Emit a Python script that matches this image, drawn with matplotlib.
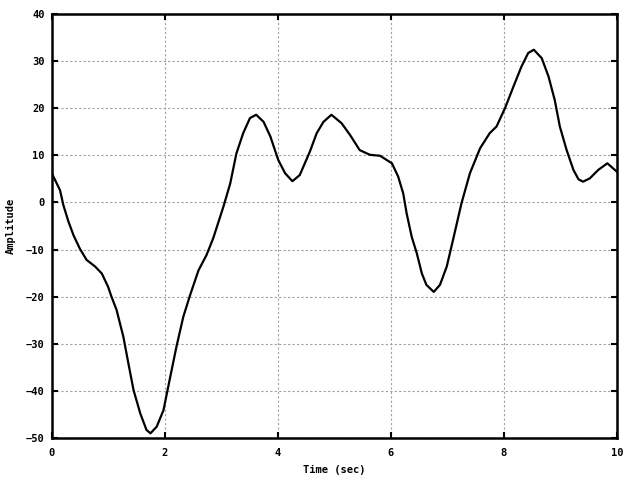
import matplotlib
matplotlib.use("Agg")
import matplotlib.pyplot as plt

# values
t = [0.0, 0.15, 0.21, 0.30, 0.39, 0.50, 0.62, 0.77, 0.89, 1.00, 1.06, 1.15, 1.27,
     1.36, 1.45, 1.57, 1.68, 1.75, 1.86, 1.98, 2.10, 2.21, 2.33, 2.45, 2.60, 2.74,
     2.86, 3.04, 3.16, 3.27, 3.39, 3.51, 3.62, 3.75, 3.87, 4.01, 4.13, 4.26, 4.39,
     4.57, 4.69, 4.81, 4.95, 5.13, 5.28, 5.45, 5.63, 5.81, 6.02, 6.13, 6.22, 6.28,
     6.37, 6.46, 6.55, 6.63, 6.76, 6.87, 6.99, 7.10, 7.25, 7.40, 7.58, 7.75, 7.87,
     8.02, 8.17, 8.31, 8.43, 8.53, 8.67, 8.79, 8.90, 8.99, 9.11, 9.23, 9.32, 9.40,
     9.52, 9.67, 9.83, 10.0]
amp = [6.3, 2.6, -0.6, -4.1, -7.0, -9.8, -12.2, -13.6, -15.1, -17.9, -20.0, -22.8,
       -28.5, -34.2, -39.8, -44.8, -48.3, -49.0, -47.6, -44.1, -37.0, -30.6, -24.3,
       -19.7, -14.4, -11.2, -7.6, -0.9, 4.0, 10.4, 14.7, 17.9, 18.6, 17.1, 14.0, 9.0,
       6.2, 4.5, 5.8, 10.8, 14.7, 17.1, 18.6, 16.8, 14.3, 11.1, 10.1, 9.9, 8.3, 5.5,
       1.9, -2.3, -7.3, -10.8, -15.1, -17.5, -19.0, -17.5, -13.6, -8.0, -0.2, 6.2,
       11.5, 14.7, 16.1, 20.0, 24.6, 28.8, 31.7, 32.4, 30.6, 26.7, 21.7, 16.1, 11.1,
       6.9, 4.9, 4.4, 5.1, 6.9, 8.3, 6.5]

xticks = [0, 2, 4, 6, 8, 10]
yticks = [-50, -40, -30, -20, -10, 0, 10, 20, 30, 40]

plt.rcParams["font.family"] = "DejaVu Sans Mono"
plt.rcParams["font.weight"] = "bold"
plt.rcParams["font.size"] = 7.5

fig = plt.figure(figsize=(6.4, 4.8), dpi=100)
ax = fig.add_axes([0.0805, 0.0875, 0.8835, 0.8835])

ax.plot(t, amp, color="black", linewidth=1.6, solid_joinstyle="round")

ax.set_xlim(0, 10)
ax.set_ylim(-50, 40)
ax.set_xticks(xticks)
ax.set_yticks(yticks)
ax.grid(True, color="#a0a0a0", linestyle=(0, (2, 2)), linewidth=0.8)
ax.tick_params(direction="in", length=4, width=1.5, top=True, right=True)
ax.tick_params(axis="x", pad=7)
ax.tick_params(axis="y", pad=5)
for s in ax.spines.values():
    s.set_linewidth(1.8)

ax.set_xlabel("Time (sec)", fontweight="bold", labelpad=5)
ax.set_ylabel("Amplitude", fontweight="bold", labelpad=7)

fig.savefig("out.png", dpi=100)
